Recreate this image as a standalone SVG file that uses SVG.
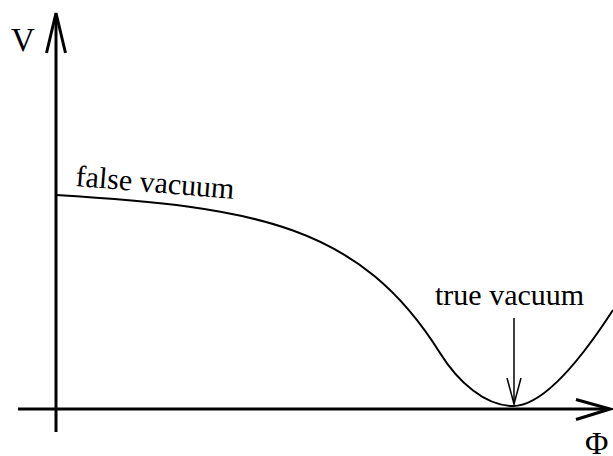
<svg xmlns="http://www.w3.org/2000/svg" width="613" height="456" viewBox="0 0 613 456">
<style>
.ax{fill:none;stroke:#000;stroke-width:3;stroke-linecap:butt;stroke-linejoin:miter}
.curve{fill:none;stroke:#000;stroke-width:2}
.ptr{fill:none;stroke:#000;stroke-width:1.5}
text{font-family:"Liberation Serif","Times New Roman",serif;fill:#000}
</style>
<rect width="613" height="456" fill="#fff"/>
<g id="axes">
<line class="ax" x1="56" y1="14" x2="56" y2="432"/>
<polyline class="ax" points="46.5,53 56,13 65.5,53"/>
<line class="ax" x1="18" y1="409" x2="609" y2="409"/>
<polyline class="ax" points="576,399.5 610,409 576,419.5"/>
</g>
<g id="curve">
<path class="curve" d="M56,195 C256,207 360,225 440,353 C458,381.8 485,406 513,406 C548,406 590,345.5 613,310"/>
</g>
<g id="pointer">
<line class="ptr" x1="514" y1="318" x2="514" y2="404"/>
<polyline class="ptr" points="507,378 514,404 521,378"/>
</g>
<g id="labels">
<text x="11" y="51" font-size="33">V</text>
<text x="585" y="454" font-size="32">Φ</text>
<text x="75" y="186" font-size="30" transform="rotate(4.6 75 186)">false vacuum</text>
<text x="435" y="305" font-size="30">true vacuum</text>
</g>
</svg>
